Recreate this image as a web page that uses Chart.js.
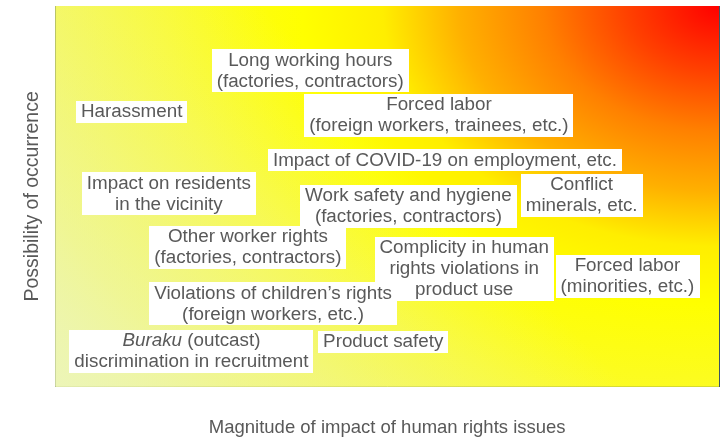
<!DOCTYPE html>
<html>
<head>
<meta charset="utf-8">
<script src="https://cdn.jsdelivr.net/npm/chart.js@4"></script>
<style>
  html, body { margin: 0; padding: 0; background: #fff; }
  #wrap { width: 723px; height: 439px; }
</style>
</head>
<body>
<div id="wrap"><canvas id="riskMap"></canvas></div>
<script>
// issue labels (lines), *word* = italic
const issues = [
  ['Long working hours', '(factories, contractors)'],
  ['Harassment'],
  ['Forced labor', '(foreign workers, trainees, etc.)'],
  ['Impact of COVID-19 on employment, etc.'],
  ['Impact on residents', 'in the vicinity'],
  ['Work safety and hygiene', '(factories, contractors)'],
  ['Conflict', 'minerals, etc.'],
  ['Other worker rights', '(factories, contractors)'],
  ['Complicity in human', 'rights violations in', 'product use'],
  ['Forced labor', '(minorities, etc.)'],
  ['Violations of children\u2019s rights', '(foreign workers, etc.)'],
  ['*Buraku* (outcast)', 'discrimination in recruitment'],
  ['Product safety']
];
// magnitude of impact (0-100)
const impact = [38.4, 11.5, 57.8, 58.7, 17.1, 53.2, 79.3, 29.0, 61.6, 86.2, 32.8, 20.5, 49.4];
// possibility of occurrence (0-100)
const possibility = [83.0, 72.2, 71.3, 59.5, 50.7, 47.4, 50.3, 36.7, 31.0, 29.0, 21.8, 9.3, 11.8];

const xTitle = 'Magnitude of impact of human rights issues';
const yTitle = 'Possibility of occurrence';

const FONT = 'Liberation Sans, Arial, sans-serif';
const FSIZE = 18;
const LINE_H = 21;
const STRETCH = 1.045;

// ----- heat background -----
const heatBg = {
  id: 'heatBg',
  beforeDatasetsDraw(chart) {
    const { ctx, chartArea: a } = chart;
    const sx = 1.4;
    const w = a.right - a.left, h = a.bottom - a.top;
    const r = Math.hypot(w / sx, h);
    ctx.save();
    ctx.translate(a.right, a.top);
    ctx.scale(sx, 1);
    const g = ctx.createRadialGradient(0, 0, 0, 0, 0, r);
    g.addColorStop(0, '#ff0000');
    g.addColorStop(0.107, '#ff4000');
    g.addColorStop(0.206, '#ff8000');
    g.addColorStop(0.305, '#ffb000');
    g.addColorStop(0.395, '#ffee00');
    g.addColorStop(0.49, '#ffff00');
    g.addColorStop(0.65, '#fbfb28');
    g.addColorStop(0.85, '#f5f750');
    g.addColorStop(1, '#eef590');
    ctx.fillStyle = g;
    ctx.fillRect(-w / sx, 0, w / sx, h);
    ctx.restore();

    // pale wash from the bottom-left corner
    ctx.save();
    const lg = ctx.createLinearGradient(a.left, a.bottom, a.left + w * 0.45, a.bottom - h * 0.75);
    lg.addColorStop(0, 'rgba(236,245,190,0.85)');
    lg.addColorStop(1, 'rgba(236,245,190,0)');
    ctx.fillStyle = lg;
    ctx.fillRect(a.left, a.top, w, h);
    ctx.restore();
  }
};

function parseLine(line) {
  return line.split('*').map((t, i) => ({ t, it: i % 2 === 1 })).filter(s => s.t);
}
function setFont(ctx, it) {
  ctx.font = (it ? 'italic ' : '') + FSIZE + 'px ' + FONT;
}
function lineWidth(ctx, segs) {
  let w = 0;
  segs.forEach(s => { setFont(ctx, s.it); w += ctx.measureText(s.t).width; });
  return w * STRETCH;
}

// ----- label boxes -----
const issueLabels = {
  id: 'issueLabels',
  afterDatasetsDraw(chart) {
    const { ctx } = chart;
    const xs = chart.scales.x, ys = chart.scales.y;
    ctx.save();
    ctx.textBaseline = 'middle';
    ctx.textAlign = 'left';
    issues.forEach((lines, i) => {
      const cx = xs.getPixelForValue(impact[i]);
      const cy = ys.getPixelForValue(possibility[i]);
      const parsed = lines.map(parseLine);
      const widths = parsed.map(p => lineWidth(ctx, p));
      const w = Math.max(...widths) + 10;
      const h = lines.length * LINE_H + 1;
      ctx.fillStyle = '#ffffff';
      ctx.fillRect(Math.round(cx - w / 2), Math.round(cy - h / 2), Math.round(w), h);
      ctx.fillStyle = '#595959';
      parsed.forEach((segs, j) => {
        let x = cx - widths[j] / 2;
        const y = cy - h / 2 + 1 + LINE_H * j + LINE_H / 2;
        segs.forEach(s => {
          setFont(ctx, s.it);
          ctx.save();
          ctx.translate(x, y);
          ctx.scale(STRETCH, 1);
          ctx.fillText(s.t, 0, 0);
          ctx.restore();
          x += ctx.measureText(s.t).width * STRETCH;
        });
      });
    });
    ctx.restore();
  }
};

const edge = {
  ticks: { display: false },
  grid: { display: false, drawTicks: false },
  border: { display: true, color: '#3d5566', width: 1 }
};

new Chart(document.getElementById('riskMap'), {
  type: 'scatter',
  data: {
    datasets: [{
      data: impact.map((v, i) => ({ x: v, y: possibility[i] })),
      pointRadius: 0,
      pointHoverRadius: 0
    }]
  },
  options: {
    responsive: true,
    maintainAspectRatio: false,
    animation: false,
    events: [],
    layout: { padding: { top: 6, right: 4, left: 21, bottom: 0 } },
    plugins: {
      legend: { display: false },
      tooltip: { enabled: false }
    },
    scales: {
      x: {
        ...edge,
        min: 0, max: 100,
        title: {
          display: true, text: xTitle, color: '#595959',
          font: { family: FONT, size: 18.5 },
          padding: { top: 30, bottom: 0 }
        }
      },
      y: {
        ...edge,
        min: 0, max: 100,
        title: {
          display: true, text: yTitle, color: '#595959',
          font: { family: FONT, size: 19.5 },
          padding: { top: 0, bottom: 11 }
        }
      },
      x2: { ...edge, position: 'top', min: 0, max: 100 },
      y2: { ...edge, position: 'right', min: 0, max: 100 }
    }
  },
  plugins: [heatBg, issueLabels]
});
</script>
</body>
</html>
